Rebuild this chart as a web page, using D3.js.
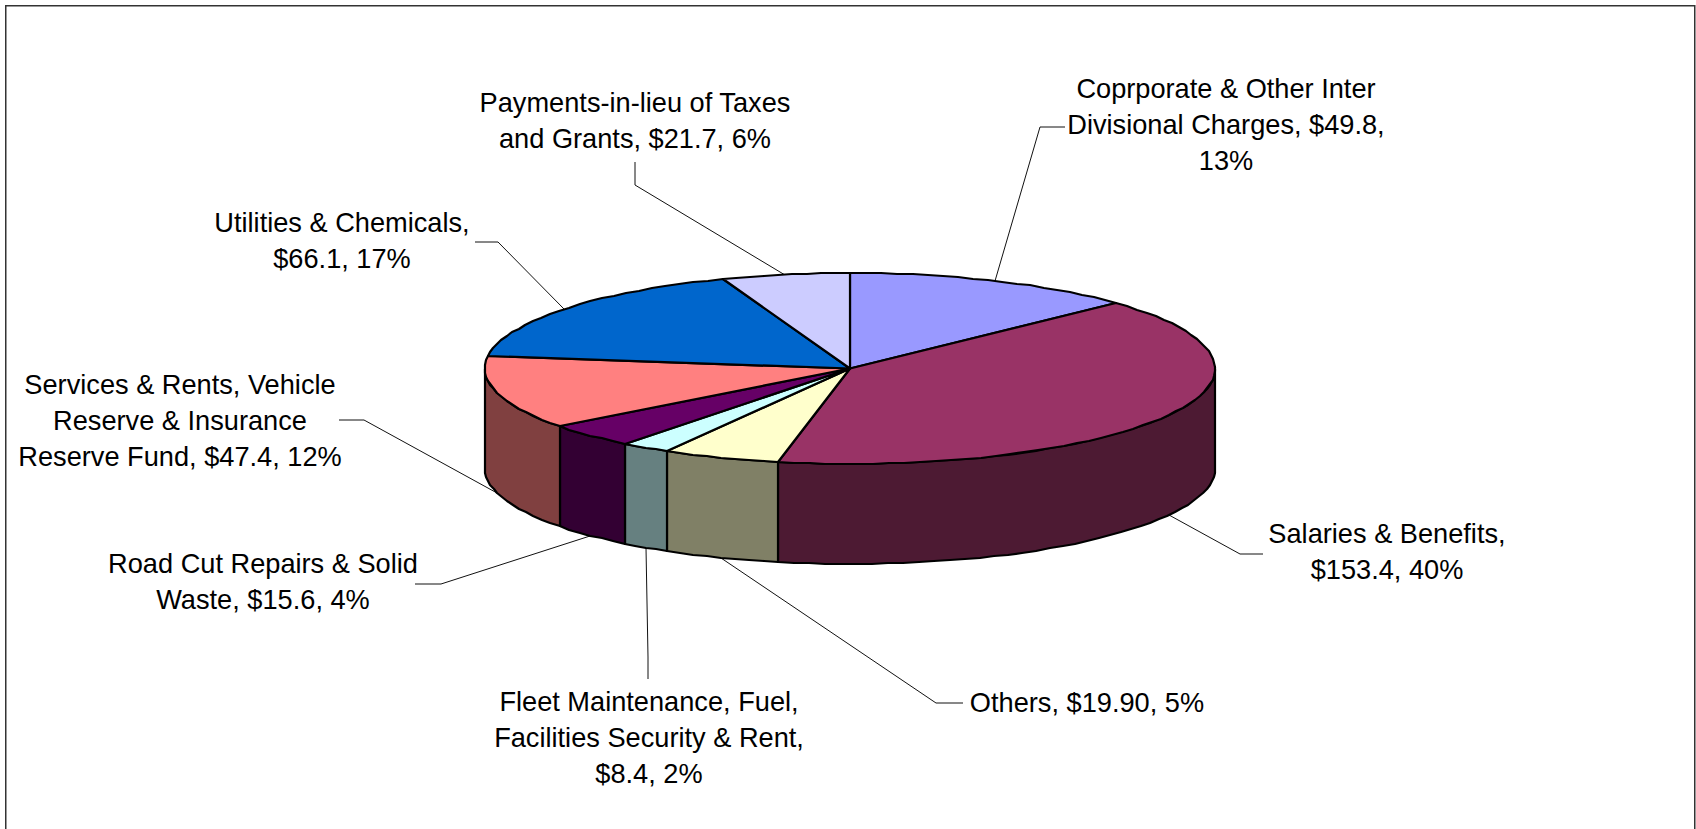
<!DOCTYPE html>
<html>
<head>
    <meta charset="utf-8">
    <title>Expense pie</title>
    <script src="https://d3js.org/d3.v7.min.js"></script>
    <style>
        html, body { margin: 0; padding: 0; background: #fff; overflow: hidden; }
        svg { display: block; }
        text { font-family: "Liberation Sans", Arial, sans-serif; font-size: 27.2px; fill: #000; }
    </style>
</head>
<body>
    <div id="chart"></div>

    <script>
        // Data, clockwise from 12 o'clock
        const categories = ["Corporate", "Salaries", "Others", "Fleet", "Road", "Services", "Utilities", "Payments"];
        const values = [49.8, 153.4, 19.9, 8.4, 15.6, 47.4, 66.1, 21.7];
        const colors = ["#9999ff", "#993366", "#ffffcc", "#ccffff", "#660066", "#ff8080", "#0066cc", "#ccccff"];
        const labelLines = [
            ["Coprporate & Other Inter", "Divisional Charges, $49.8,", "13%"],
            ["Salaries & Benefits,", "$153.4, 40%"],
            ["Others, $19.90, 5%"],
            ["Fleet Maintenance, Fuel,", "Facilities Security & Rent,", "$8.4, 2%"],
            ["Road Cut Repairs & Solid", "Waste, $15.6, 4%"],
            ["Services & Rents, Vehicle", "Reserve & Insurance", "Reserve Fund, $47.4, 12%"],
            ["Utilities & Chemicals,", "$66.1, 17%"],
            ["Payments-in-lieu of Taxes", "and Grants, $21.7, 6%"]
        ];

        // Label placement: centre x, first baseline y, then the leader's elbow points
        const labelLayout = [
            {x: 1226, y: 98, leader: [[1040, 127], [1065, 127]]},
            {x: 1387, y: 543, leader: [[1240, 554], [1263, 554]]},
            {x: 1087, y: 712, leader: [[936, 703], [963, 703]]},
            {x: 649, y: 711, leader: [[648, 657], [648, 679]]},
            {x: 263, y: 573, leader: [[441, 584], [415, 584]]},
            {x: 180, y: 394, leader: [[364, 420], [339, 420]]},
            {x: 342, y: 232, leader: [[498, 242], [475, 242]]},
            {x: 635, y: 112, leader: [[635, 185], [635, 162]]}
        ];

        const width = 1696, height = 829;
        const cx = 850, cy = 368.5, rx = 365, ry = 95.5, depth = 100;

        const svg = d3.select("#chart").append("svg")
            .attr("width", width)
            .attr("height", height);

        // Frame, bottom edge is cut off by the picture
        svg.append("rect")
            .attr("x", 5.75).attr("y", 5.75)
            .attr("width", 1689).attr("height", 860)
            .attr("fill", "#fff")
            .attr("stroke", "#333")
            .attr("stroke-width", 1.5);

        const xScale = d3.scaleLinear().domain([-1, 1]).range([cx - rx, cx + rx]);
        const yScale = d3.scaleLinear().domain([-1, 1]).range([cy - ry, cy + ry]);

        const slices = d3.pie().value(d => d).sort(null)(values);

        // Point on the top ellipse for a clockwise angle from 12 o'clock.
        // Rounded to whole pixels, the original rim is stepped like that too.
        const rim = (a, drop = 0) => [Math.round(xScale(Math.sin(a))), Math.round(yScale(-Math.cos(a)) + drop)];

        const arcAngles = (a0, a1) => {
            const step = Math.PI / 72;
            const n = Math.max(1, Math.ceil((a1 - a0) / step));
            return d3.range(n + 1).map(i => a0 + (a1 - a0) * i / n);
        };

        const line = d3.line();
        const outline = pts => line(pts) + "Z";

        // Leaders sit under the pie
        const leaders = svg.append("g")
            .attr("fill", "none")
            .attr("stroke", "#111")
            .attr("stroke-width", 1);
        slices.forEach((s, i) => {
            const mid = (s.startAngle + s.endAngle) / 2;
            const front = Math.cos(mid) < 0;
            leaders.append("path").attr("d", line([rim(mid, front ? depth : 0), ...labelLayout[i].leader]));
        });

        // Side walls, only what faces the viewer (quarter past to quarter to)
        const wallStart = Math.PI / 2, wallEnd = Math.PI * 1.5;
        svg.append("g").selectAll("path")
            .data(slices.filter(s => s.endAngle > wallStart && s.startAngle < wallEnd))
            .join("path")
            .attr("d", s => {
                const angles = arcAngles(Math.max(s.startAngle, wallStart), Math.min(s.endAngle, wallEnd));
                return outline([
                    ...angles.map(a => rim(a)),
                    ...angles.slice().reverse().map(a => rim(a, depth))
                ]);
            })
            .attr("fill", s => {
                const c = d3.rgb(colors[s.index]);
                return d3.rgb(c.r / 2, c.g / 2, c.b / 2);
            })
            .attr("stroke", "#000")
            .attr("stroke-width", 2.2)
            .attr("stroke-linejoin", "round");

        // Top faces
        svg.append("g").selectAll("path")
            .data(slices)
            .join("path")
            .attr("class", (s, i) => "slice " + categories[i])
            .attr("d", s => outline([[cx, cy], ...arcAngles(s.startAngle, s.endAngle).map(a => rim(a))]))
            .attr("fill", (s, i) => colors[i])
            .attr("stroke", "#000")
            .attr("stroke-width", 2.2)
            .attr("stroke-linejoin", "round");

        // Labels
        const lineHeight = 36;
        labelLines.forEach((lines, i) => {
            const t = svg.append("text")
                .attr("text-anchor", "middle")
                .attr("x", labelLayout[i].x)
                .attr("y", labelLayout[i].y);
            lines.forEach((l, j) => {
                t.append("tspan")
                    .attr("x", labelLayout[i].x)
                    .attr("y", labelLayout[i].y + j * lineHeight)
                    .text(l);
            });
        });
    </script>
</body>
</html>
